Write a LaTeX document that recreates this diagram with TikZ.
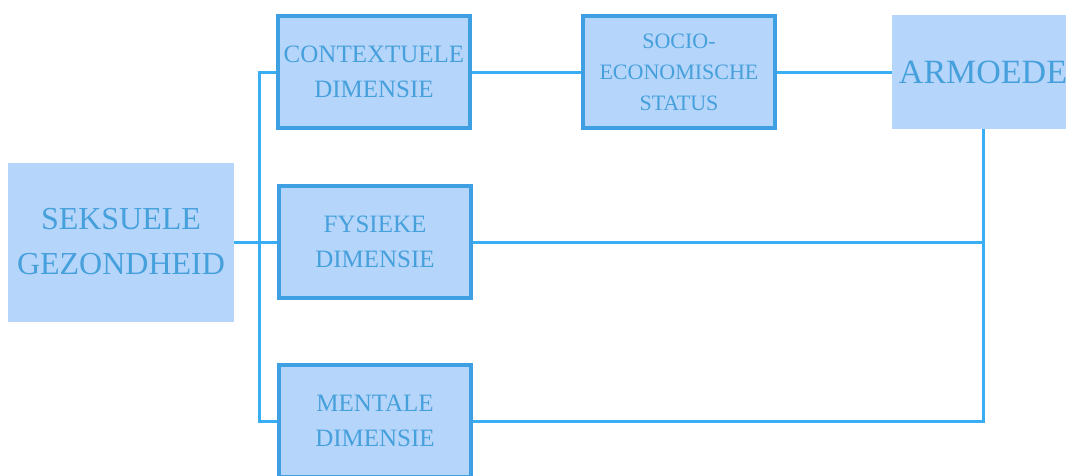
\documentclass[tikz,border=0pt]{standalone}
\usepackage{fontspec}
\setmainfont{Liberation Serif}
\definecolor{boxfill}{RGB}{182,213,250}
\definecolor{boxedge}{RGB}{62,160,226}
\definecolor{linkblue}{RGB}{58,174,244}
\definecolor{textblue}{RGB}{70,160,220}
\tikzset{
  plain/.style={fill=boxfill, text=textblue, align=center, inner sep=0pt},
  framed/.style={plain, draw=boxedge, line width=4pt,
                 minimum width=192pt, minimum height=112pt,
                 font=\fontsize{25}{35}\selectfont},
  link/.style={draw=linkblue, line width=3pt}
}
\begin{document}
\begin{tikzpicture}[x=1pt,y=-1pt]
                \useasboundingbox (0,0) rectangle (1066,475);
                \clip (0,0) rectangle (1066,475);
                % the boxes
                \node[plain, minimum width=226pt, minimum height=159pt,
                      font=\fontsize{32}{45}\selectfont] (seks) at (121,242) {SEKSUELE\\GEZONDHEID};
                \node[framed] (ctx)  at (374,72)  {CONTEXTUELE\\DIMENSIE};
                \node[framed] (fys)  at (375,242) {FYSIEKE\\DIMENSIE};
                \node[framed] (ment) at (375,421) {MENTALE\\DIMENSIE};
                \node[framed, font=\fontsize{22}{31}\selectfont] (soc) at (679,72) {SOCIO-\\ECONOMISCHE\\STATUS};
                \node[plain, minimum width=182pt, minimum height=114pt,
                      font=\fontsize{34}{40}\selectfont] (arm) at (983,72) {ARMOEDE};
                %\draw (seks.east) -- (ctx.west);

                % the links
                \draw[link] (seks.east) -- (fys.west);
                \draw[link] (ctx.west) -- ++(-17,0) |- (ment.west);
                \draw[link] (ctx.east) -- (soc.west)
                            (soc.east) -- (arm.west);
                \draw[link] (arm.south) -- (arm.south |- ment.east) -- (ment.east)
                            (fys.east)  -- (fys.east -| arm.south);
              \end{tikzpicture}
\end{document}
